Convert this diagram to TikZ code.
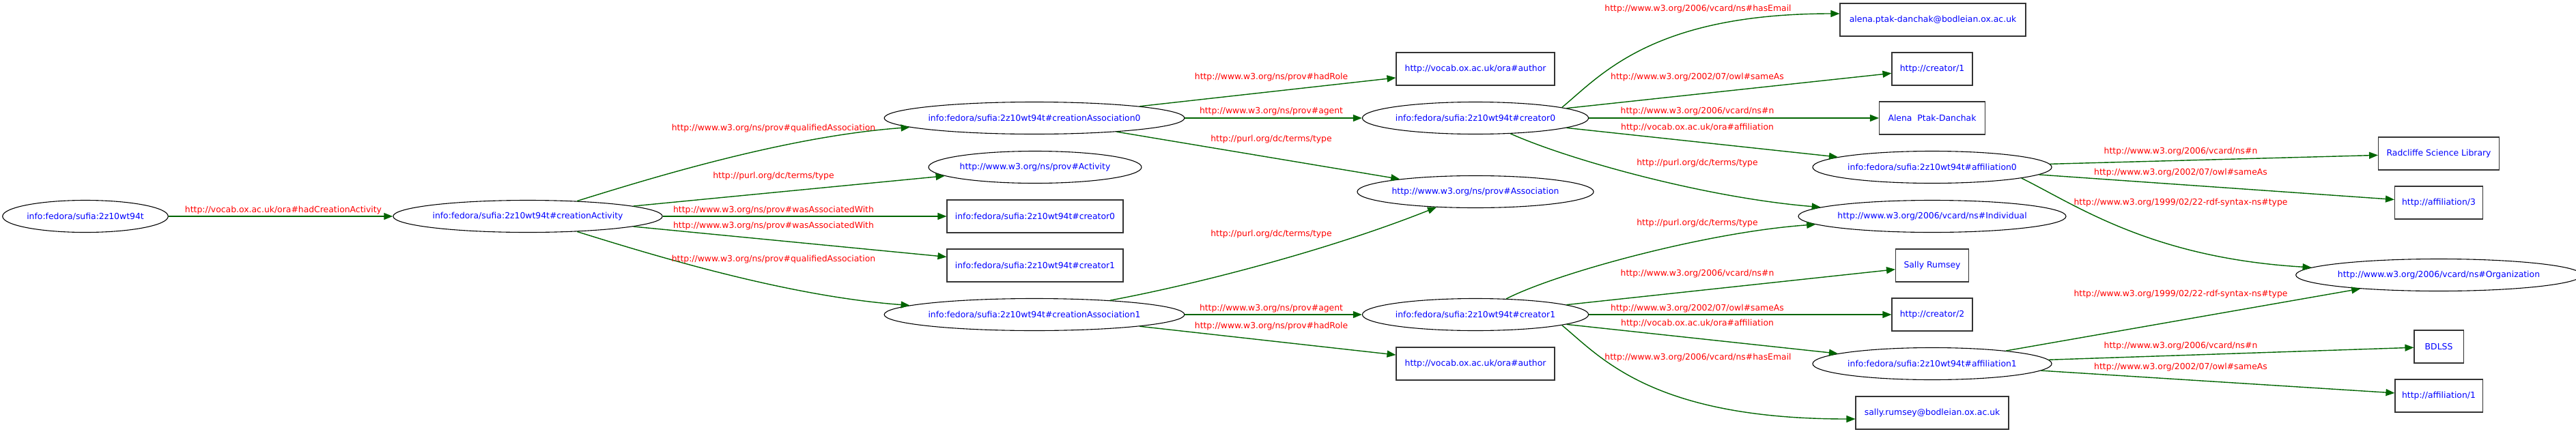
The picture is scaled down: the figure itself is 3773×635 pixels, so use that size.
\documentclass[tikz,border=0pt]{standalone}
\usepackage{fontspec}
\setmainfont{DejaVu Sans}
\usepackage{tikz}
\usetikzlibrary{shapes.geometric, arrows.meta}

\definecolor{uriblue}{RGB}{0,0,255}
\definecolor{predred}{RGB}{255,0,0}
\definecolor{edgegreen}{RGB}{0,100,0}
\newcommand{\gvfont}{\fontsize{12.4}{14}\selectfont}

\begin{document}
\begin{tikzpicture}[x=1pt, y=-1pt,
  res/.style={ellipse, draw, line width=1.1pt, inner sep=0pt, minimum height=47pt, text=uriblue, font=\gvfont},
  lit/.style={rectangle, draw=black!80, line width=1.1pt, inner sep=0pt, minimum height=48pt, text=uriblue, font=\gvfont},
  link/.style={edgegreen, line width=1.4pt, -{Triangle[length=13pt, width=10pt]}},
  pred/.style={text=predred, font=\gvfont, inner sep=0pt}]

  \useasboundingbox (0,0) rectangle (3773,635);

  % Define nodes
  \node[res, minimum width=240pt] (work) at (125,317) {info:fedora/sufia:2z10wt94t};
  \node[res, minimum width=372pt] (act)  at (773,317) {info:fedora/sufia:2z10wt94t\#creationActivity};

  \node[res, minimum width=415pt] (ca0)  at (1515,173) {info:fedora/sufia:2z10wt94t\#creationAssociation0};
  \node[res, minimum width=294pt] (actc) at (1516,245) {http://www.w3.org/ns/prov\#Activity};
  \node[lit, minimum width=258pt] (wc0)  at (1516,317) {info:fedora/sufia:2z10wt94t\#creator0};
  \node[lit, minimum width=258pt] (wc1)  at (1516,389) {info:fedora/sufia:2z10wt94t\#creator1};
  \node[res, minimum width=415pt] (ca1)  at (1515,461) {info:fedora/sufia:2z10wt94t\#creationAssociation1};

  \node[lit, minimum width=232pt] (role0) at (2161,101) {http://vocab.ox.ac.uk/ora\#author};
  \node[res, minimum width=316pt] (cr0)   at (2161,173) {info:fedora/sufia:2z10wt94t\#creator0};
  \node[res, minimum width=328pt] (asc)   at (2161,281) {http://www.w3.org/ns/prov\#Association};
  \node[res, minimum width=316pt] (cr1)   at (2161,461) {info:fedora/sufia:2z10wt94t\#creator1};
  \node[lit, minimum width=232pt] (role1) at (2161,533) {http://vocab.ox.ac.uk/ora\#author};

  \node[lit, minimum width=272pt] (mail0) at (2831,29)  {alena.ptak-danchak@bodleian.ox.ac.uk};
  \node[lit, minimum width=118pt] (same0) at (2830,101) {http://creator/1};
  \node[lit, minimum width=155pt] (name0) at (2830,173) {Alena\ \ Ptak-Danchak};
  \node[res, minimum width=333pt] (aff0)  at (2830,245) {info:fedora/sufia:2z10wt94t\#affiliation0};
  \node[res, minimum width=362pt] (ind)   at (2830,317) {http://www.w3.org/2006/vcard/ns\#Individual};
  \node[lit, minimum width=107pt] (name1) at (2830,389) {Sally Rumsey};
  \node[lit, minimum width=118pt] (same1) at (2830,461) {http://creator/2};
  \node[res, minimum width=333pt] (aff1)  at (2830,533) {info:fedora/sufia:2z10wt94t\#affiliation1};
  \node[lit, minimum width=224pt] (mail1) at (2830,605) {sally.rumsey@bodleian.ox.ac.uk};

  \node[lit, minimum width=177pt] (org0)  at (3572,225) {Radcliffe Science Library};
  \node[lit, minimum width=129pt] (afs3)  at (3572,297) {http://affiliation/3};
  \node[res, minimum width=391pt] (org)   at (3572,403) {http://www.w3.org/2006/vcard/ns\#Organization};
  \node[lit, minimum width=72pt]  (org1)  at (3572,508) {BDLSS};
  \node[lit, minimum width=128pt] (afs1)  at (3572,580) {http://affiliation/1};

  % Edges
  \draw[link] (work) -- (act);
  \draw[link] (act) .. controls (950,262) and (1150,200) .. (ca0);
  \draw[link] (act) -- (actc);
  \draw[link] (act) -- (wc0);
  \draw[link] (act) -- (wc1);
  \draw[link] (act) .. controls (950,372) and (1150,434) .. (ca1);

  \draw[link] (ca0) -- (role0);
  \draw[link] (ca0) -- (cr0);
  \draw[link] (ca0) -- (asc);
  \draw[link] (ca1) .. controls (1760,415) and (1950,365) .. (asc);
  \draw[link] (ca1) -- (cr1);
  \draw[link] (ca1) -- (role1);

  \draw[link] (cr0.7) .. controls (2345,110) and (2420,20) .. ([yshift=9pt]mail0.west);
  \draw[link] (cr0) -- (same0);
  \draw[link] (cr0) -- (name0);
  \draw[link] (cr0) -- (aff0);
  \draw[link] (cr0) .. controls (2300,235) and (2500,290) .. (ind);
  \draw[link] (cr1) .. controls (2280,400) and (2500,340) .. (ind);
  \draw[link] (cr1) -- (name1);
  \draw[link] (cr1) -- (same1);
  \draw[link] (cr1) -- (aff1);
  \draw[link] (cr1.-7) .. controls (2345,524) and (2420,614) .. ([yshift=-9pt]mail1.west);

  \draw[link] (aff0) -- (org0);
  \draw[link] (aff0) -- (afs3);
  \draw[link] (aff0.-7) .. controls (3040,300) and (3150,378) .. (org);
  \draw[link] (aff1) -- (org);
  \draw[link] (aff1) -- (org1);
  \draw[link] (aff1) -- (afs1);

  % Predicates
  \node[pred] (p1)  at (415,308)  {http://vocab.ox.ac.uk/ora\#hadCreationActivity};
  \node[pred] (p2)  at (1133,188) {http://www.w3.org/ns/prov\#qualifiedAssociation};
  \node[pred] (p3)  at (1133,258) {http://purl.org/dc/terms/type};
  \node[pred] (p4)  at (1133,308) {http://www.w3.org/ns/prov\#wasAssociatedWith};
  \node[pred] (p5)  at (1133,331) {http://www.w3.org/ns/prov\#wasAssociatedWith};
  \node[pred] (p6)  at (1133,380) {http://www.w3.org/ns/prov\#qualifiedAssociation};
  \node[pred] (p7)  at (1862,113) {http://www.w3.org/ns/prov\#hadRole};
  \node[pred] (p8)  at (1862,163) {http://www.w3.org/ns/prov\#agent};
  \node[pred] (p9)  at (1862,204) {http://purl.org/dc/terms/type};
  \node[pred] (p10) at (1862,343) {http://purl.org/dc/terms/type};
  \node[pred] (p11) at (1862,452) {http://www.w3.org/ns/prov\#agent};
  \node[pred] (p12) at (1862,478) {http://www.w3.org/ns/prov\#hadRole};
  \node[pred] (p13) at (2487,13)  {http://www.w3.org/2006/vcard/ns\#hasEmail};
  \node[pred] (p14) at (2486,113) {http://www.w3.org/2002/07/owl\#sameAs};
  \node[pred] (p15) at (2486,163) {http://www.w3.org/2006/vcard/ns\#n};
  \node[pred] (p16) at (2486,187) {http://vocab.ox.ac.uk/ora\#affiliation};
  \node[pred] (p17) at (2486,239) {http://purl.org/dc/terms/type};
  \node[pred] (p18) at (2486,327) {http://purl.org/dc/terms/type};
  \node[pred] (p19) at (2486,401) {http://www.w3.org/2006/vcard/ns\#n};
  \node[pred] (p20) at (2486,452) {http://www.w3.org/2002/07/owl\#sameAs};
  \node[pred] (p21) at (2486,474) {http://vocab.ox.ac.uk/ora\#affiliation};
  \node[pred] (p22) at (2487,524) {http://www.w3.org/2006/vcard/ns\#hasEmail};
  \node[pred] (p23) at (3194,222) {http://www.w3.org/2006/vcard/ns\#n};
  \node[pred] (p24) at (3194,253) {http://www.w3.org/2002/07/owl\#sameAs};
  \node[pred] (p25) at (3194,297) {http://www.w3.org/1999/02/22-rdf-syntax-ns\#type};
  \node[pred] (p26) at (3194,431) {http://www.w3.org/1999/02/22-rdf-syntax-ns\#type};
  \node[pred] (p27) at (3194,507) {http://www.w3.org/2006/vcard/ns\#n};
  \node[pred] (p28) at (3194,538) {http://www.w3.org/2002/07/owl\#sameAs};

\end{tikzpicture}
\end{document}
